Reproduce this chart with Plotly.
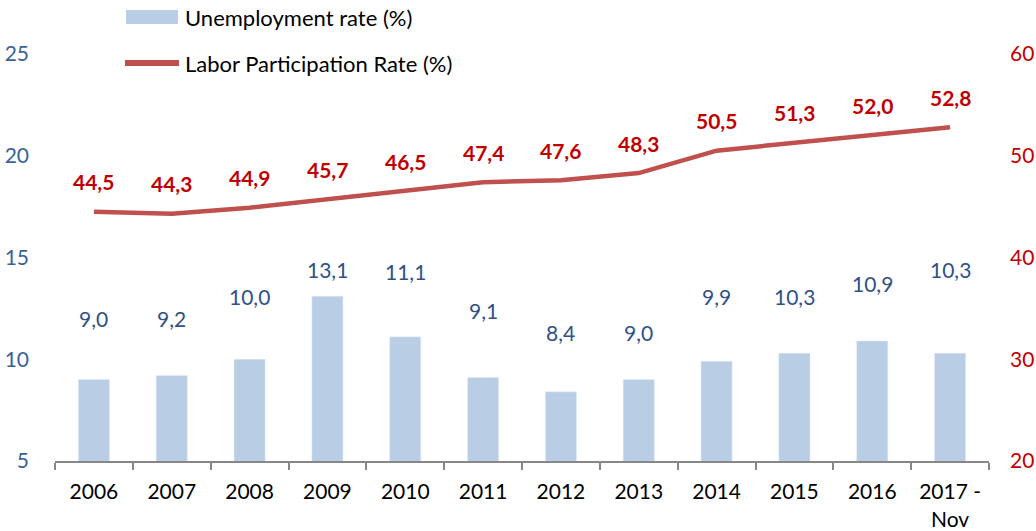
import plotly.graph_objects as go

years = ["2006", "2007", "2008", "2009", "2010", "2011", "2012", "2013", "2014", "2015", "2016", "2017 -<br>Nov"]
unemployment = [9.0, 9.2, 10.0, 13.1, 11.1, 9.1, 8.4, 9.0, 9.9, 10.3, 10.9, 10.3]
participation = [44.5, 44.3, 44.9, 45.7, 46.5, 47.4, 47.6, 48.3, 50.5, 51.3, 52.0, 52.8]
# label heights (left-axis units) as placed in the reference
bar_label_y = [12.0, 12.0, 13.1, 14.4, 14.3, 12.4, 11.3, 11.3, 13.1, 13.1, 13.7, 14.4]

FONT = "Lato"
BAR_C = "#B9CDE5"
LINE_C = "#C0504D"
BLUE_T = "#2E5286"
RED_T = "#C00000"

def fmt(v):
    return f"{v:.1f}".replace(".", ",")

xi = list(range(len(years)))
bounds = [i - 0.5 for i in range(len(years) + 1)]

fig = go.Figure()
fig.add_trace(go.Bar(x=xi, y=unemployment, marker_color=BAR_C, width=0.4,
                     name="Unemployment rate (%)", showlegend=False))
fig.add_trace(go.Scatter(x=xi, y=participation, yaxis="y2", mode="lines",
                         line=dict(color=LINE_C, width=4.5), name="Labor Participation Rate (%)",
                         showlegend=False))

ann = []
for x, v, ly in zip(xi, unemployment, bar_label_y):
    ann.append(dict(x=x, y=ly, xref="x", yref="y", text=fmt(v), showarrow=False,
                    font=dict(family=FONT, size=21, color=BLUE_T)))
for x, v in zip(xi, participation):
    ann.append(dict(x=x, y=v, xref="x", yref="y2", text="<b>" + fmt(v) + "</b>", showarrow=False,
                    yshift=30, font=dict(family=FONT, size=21, color=RED_T)))

# legend (manual)
PW, PH, L, B = 934, 407, 55, 461
shapes = [
    dict(type="rect", xref="paper", yref="paper", x0=(126-L)/PW, x1=(178-L)/PW,
         y0=(B-24)/PH, y1=(B-10)/PH, fillcolor=BAR_C, line_width=0),
    dict(type="line", xref="paper", yref="paper", x0=(125-L)/PW, x1=(179-L)/PW,
         y0=(B-63)/PH, y1=(B-63)/PH, line=dict(color=LINE_C, width=6)),
]
ann.append(dict(xref="paper", yref="paper", x=(183-L)/PW, y=(B-17)/PH, xanchor="left",
                yanchor="middle", text="Unemployment rate (%)", showarrow=False,
                font=dict(family=FONT, size=22, color="#000000")))
ann.append(dict(xref="paper", yref="paper", x=(183-L)/PW, y=(B-63)/PH, xanchor="left",
                yanchor="middle", text="Labor Participation Rate (%)", showarrow=False,
                font=dict(family=FONT, size=22, color="#000000")))

fig.update_layout(
    width=1036, height=531,
    margin=dict(l=55, r=47, t=54, b=70),
    paper_bgcolor="white", plot_bgcolor="white",
    font=dict(family=FONT, size=20),
    xaxis=dict(range=[-0.5, len(years) - 0.5], showgrid=False, zeroline=False, automargin=False,
               showline=True, linecolor="#878787", linewidth=2,
               tickvals=xi, ticktext=years, ticks="",
               tickfont=dict(family=FONT, size=21, color="#000000"), ticklabelstandoff=11,
               minor=dict(tickvals=bounds, ticks="outside", ticklen=7, tickwidth=2,
                          tickcolor="#878787", showgrid=False)),
    yaxis=dict(range=[5, 25], dtick=5, showgrid=False, zeroline=False, showline=False,
               automargin=False,
               tickfont=dict(family=FONT, size=21, color="#3A629A"), ticklabelstandoff=25),
    yaxis2=dict(range=[20, 60], dtick=10, overlaying="y", side="right", showgrid=False,
                zeroline=False, showline=False, automargin=False,
                tickfont=dict(family=FONT, size=21, color=RED_T), ticklabelstandoff=20),
    annotations=ann, shapes=shapes,
)

fig.write_html("out.html", config={"displayModeBar": False},
               post_script="document.body.style.margin='0';document.body.style.overflow='hidden';")
